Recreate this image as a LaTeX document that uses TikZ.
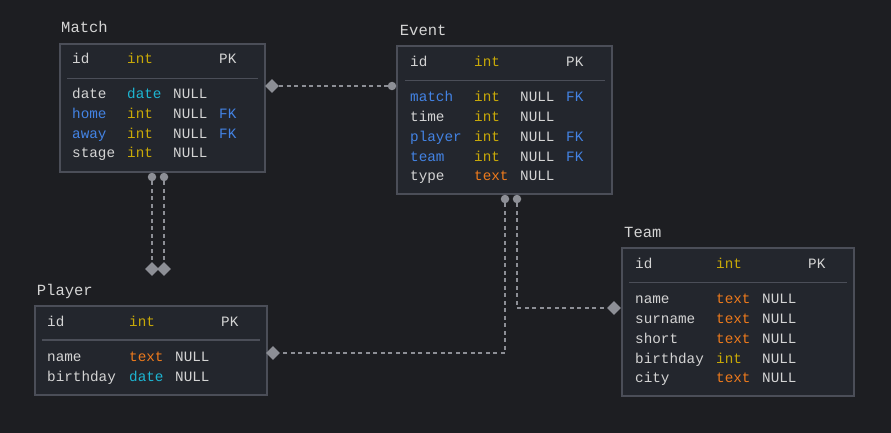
\documentclass[tikz,border=0pt]{standalone}
\usepackage{fontspec}
\usepackage{xcolor}
\usetikzlibrary{shapes.geometric}
\newfontfamily\ermono{Liberation Mono}

\definecolor{bgdark}{HTML}{1D1E22}
\definecolor{boxfill}{HTML}{23262D}
\definecolor{boxline}{HTML}{4B4E58}
\definecolor{linkgray}{HTML}{8D8F96}
\definecolor{fieldgray}{HTML}{D4D4D4}
\definecolor{keyblue}{HTML}{4383E4}
\definecolor{intyellow}{HTML}{C8A908}
\definecolor{datecyan}{HTML}{1DB5D2}
\definecolor{textorange}{HTML}{EE7A1C}

\begin{document}
\begin{tikzpicture}[x=1pt,y=-1pt,
  table/.style={draw=boxline, line width=2pt, fill=boxfill, inner sep=0pt},
  sepline/.style={draw=boxline, line width=1.5pt},
  title/.style={anchor=mid west, inner sep=0pt, yshift=-2.5pt, text=fieldgray, font=\ermono\fontsize{15.5}{18}\selectfont},
  cell/.style={anchor=mid west, inner sep=0pt, yshift=-2.3pt, text=fieldgray, font=\ermono\fontsize{14.3}{17}\selectfont},
  fkcell/.style={cell, text=keyblue},
  intcell/.style={cell, text=intyellow},
  datecell/.style={cell, text=datecyan},
  textcell/.style={cell, text=textorange},
  link/.style={draw=linkgray, line width=1.3pt, dash pattern=on 4pt off 3.5pt},
  endone/.style={circle, fill=linkgray, inner sep=0pt, minimum size=8.5pt},
  endmany/.style={diamond, fill=linkgray, inner sep=0pt, minimum size=14pt}]

% Background
\fill[bgdark] (0,0) rectangle (891,433);
\useasboundingbox (0,0) rectangle (891,433);

% Match table
\node[title] (match-title) at (61,28.3) {Match};
\node[table, minimum width=205pt, minimum height=128pt] (match) at (162.5,108) {};
\draw[sepline] (67,78.3) -- (258,78.3);
\node[cell] (match-id) at (72,59) {id};
\node[intcell] (match-id-t) at (127,59) {int};
\node[cell] (match-id-k) at (219,59) {PK};
\node[cell] (match-date) at (72,94) {date};
\node[datecell] (match-date-t) at (127,94) {date};
\node[cell] (match-date-n) at (173,94) {NULL};
\node[fkcell] (match-home) at (72,113.8) {home};
\node[intcell] (match-home-t) at (127,113.8) {int};
\node[cell] (match-home-n) at (173,113.8) {NULL};
\node[fkcell] (match-home-k) at (219,113.8) {FK};
\node[fkcell] (match-away) at (72,133.6) {away};
\node[intcell] (match-away-t) at (127,133.6) {int};
\node[cell] (match-away-n) at (173,133.6) {NULL};
\node[fkcell] (match-away-k) at (219,133.6) {FK};
\node[cell] (match-stage) at (72,153.4) {stage};
\node[intcell] (match-stage-t) at (127,153.4) {int};
\node[cell] (match-stage-n) at (173,153.4) {NULL};

% Event table
\node[title] (event-title) at (399.7,31) {Event};
\node[table, minimum width=215pt, minimum height=148pt] (event) at (504.5,120) {};
\draw[sepline] (405,80.7) -- (605,80.7);
\node[cell] (event-id) at (410,62.3) {id};
\node[intcell] (event-id-t) at (474,62.3) {int};
\node[cell] (event-id-k) at (566,62.3) {PK};
\node[fkcell] (event-match) at (410,97.3) {match};
\node[intcell] (event-match-t) at (474,97.3) {int};
\node[cell] (event-match-n) at (520,97.3) {NULL};
\node[fkcell] (event-match-k) at (566,97.3) {FK};
\node[cell] (event-time) at (410,117.1) {time};
\node[intcell] (event-time-t) at (474,117.1) {int};
\node[cell] (event-time-n) at (520,117.1) {NULL};
\node[fkcell] (event-player) at (410,136.9) {player};
\node[intcell] (event-player-t) at (474,136.9) {int};
\node[cell] (event-player-n) at (520,136.9) {NULL};
\node[fkcell] (event-player-k) at (566,136.9) {FK};
\node[fkcell] (event-team) at (410,156.7) {team};
\node[intcell] (event-team-t) at (474,156.7) {int};
\node[cell] (event-team-n) at (520,156.7) {NULL};
\node[fkcell] (event-team-k) at (566,156.7) {FK};
\node[cell] (event-type) at (410,176.5) {type};
\node[textcell] (event-type-t) at (474,176.5) {text};
\node[cell] (event-type-n) at (520,176.5) {NULL};

% Player table
\node[title] (player-title) at (36.7,291) {Player};
\node[table, minimum width=232pt, minimum height=89pt] (player) at (151,350) {};
\draw[sepline] (42,340) -- (260,340);
\node[cell] (player-id) at (47,321.7) {id};
\node[intcell] (player-id-t) at (129,321.7) {int};
\node[cell] (player-id-k) at (221,321.7) {PK};
\node[cell] (player-name) at (47,357.3) {name};
\node[textcell] (player-name-t) at (129,357.3) {text};
\node[cell] (player-name-n) at (175,357.3) {NULL};
\node[cell] (player-birthday) at (47,377) {birthday};
\node[datecell] (player-birthday-t) at (129,377) {date};
\node[cell] (player-birthday-n) at (175,377) {NULL};

% Team table
\node[title] (team-title) at (624,233.3) {Team};
\node[table, minimum width=232pt, minimum height=148pt] (team) at (738,322.3) {};
\draw[sepline] (629,282.7) -- (847,282.7);
\node[cell] (team-id) at (635,264) {id};
\node[intcell] (team-id-t) at (716,264) {int};
\node[cell] (team-id-k) at (808,264) {PK};
\node[cell] (team-name) at (635,299.3) {name};
\node[textcell] (team-name-t) at (716,299.3) {text};
\node[cell] (team-name-n) at (762,299.3) {NULL};
\node[cell] (team-surname) at (635,319.1) {surname};
\node[textcell] (team-surname-t) at (716,319.1) {text};
\node[cell] (team-surname-n) at (762,319.1) {NULL};
\node[cell] (team-short) at (635,338.9) {short};
\node[textcell] (team-short-t) at (716,338.9) {text};
\node[cell] (team-short-n) at (762,338.9) {NULL};
\node[cell] (team-birthday) at (635,358.7) {birthday};
\node[intcell] (team-birthday-t) at (716,358.7) {int};
\node[cell] (team-birthday-n) at (762,358.7) {NULL};
\node[cell] (team-city) at (635,378.5) {city};
\node[textcell] (team-city-t) at (716,378.5) {text};
\node[cell] (team-city-n) at (762,378.5) {NULL};

% Relation ends
\node[endmany] (match-to-event) at (272,86) {};
\node[endone] (event-to-match) at (392,86) {};
\node[endone] (match-to-player1) at (152,177) {};
\node[endone] (match-to-player2) at (164,177) {};
\node[endmany] (player-to-match1) at (152,269) {};
\node[endmany] (player-to-match2) at (164,269) {};
\node[endone] (event-to-player) at (505,199) {};
\node[endmany] (player-to-event) at (273,353) {};
\node[endone] (event-to-team) at (517,199) {};
\node[endmany] (team-to-event) at (614,308) {};

% Relation lines
\draw[link] (match-to-event) -- (event-to-match);
\draw[link] (match-to-player1) -- (player-to-match1);
\draw[link] (match-to-player2) -- (player-to-match2);
\draw[link] (event-to-player) |- (player-to-event);
\draw[link] (event-to-team) |- (team-to-event);
\end{tikzpicture}
\end{document}
